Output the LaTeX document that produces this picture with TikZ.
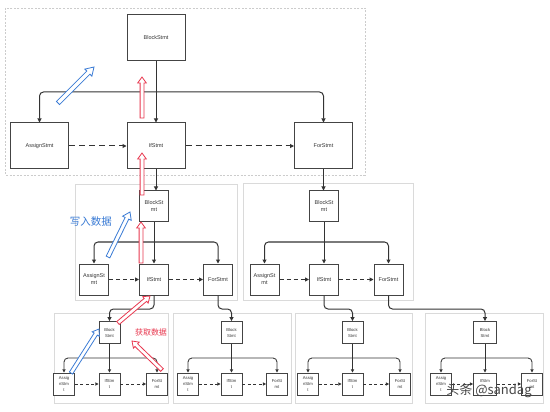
\documentclass[tikz,border=0pt]{standalone}
\usepackage{fontspec}
\setmainfont{Liberation Sans}
\newfontfamily\cjk{Noto Sans CJK SC}
\usetikzlibrary{arrows.meta,calc}
\definecolor{ln}{HTML}{333333}
\definecolor{bx}{HTML}{444444}
\definecolor{bl}{HTML}{3A7BD5}
\definecolor{rd}{HTML}{E8384F}
\definecolor{fr}{HTML}{DADADA}
\newcommand\hollowarr[6]{%
  \coordinate (hb) at ($(#3)!#6!(#2)$);
  \draw[hollow, draw=#1] ($(#2)!#4!90:(#3)$) -- ($(hb)!#4!90:(#3)$) -- ($(hb)!#5!90:(#3)$) -- (#3) -- ($(hb)!#5!-90:(#3)$) -- ($(hb)!#4!-90:(#3)$) -- ($(#2)!#4!-90:(#3)$) -- cycle;}
\begin{document}
\begin{tikzpicture}[x=1pt,y=-1pt,
  b1/.style={draw=bx, line width=1pt, fill=white, minimum width=58pt, minimum height=46pt, inner sep=0pt, align=center, text=black!80, font=\fontsize{5.5}{7}\selectfont},
  b2/.style={b1, minimum width=29pt, minimum height=31pt},
  b3/.style={b1, minimum width=21pt, minimum height=22pt, line width=0.9pt, font=\fontsize{4.2}{6}\selectfont},
  b3w/.style={b3, minimum width=23pt},
  conn/.style={draw=ln, line width=1pt},
  arr/.style={conn, -{Triangle[length=4pt,width=4pt]}},
  arrs/.style={conn, line width=0.85pt, -{Triangle[length=3.2pt,width=3.2pt]}},
  dsh1/.style={arr, dash pattern=on 6pt off 4pt},
  dsh2/.style={arr, dash pattern=on 4pt off 3pt},
  dsh3/.style={arrs, dash pattern=on 3pt off 2.5pt},
  frame0/.style={draw=gray!40, line width=0.6pt, dash pattern=on 2pt off 1.5pt},
  framebox/.style={draw=fr, line width=0.6pt},
  hollow/.style={fill=white, line width=0.8pt, line join=miter},
  rc/.style={rounded corners=4pt}
]
\fill[white] (0,0) rectangle (550,412);
\useasboundingbox (0,0) rectangle (550,412);
% frames
\draw[frame0] (5,8) rectangle (365,175);
\draw[framebox] (75,184) rectangle (237,300);
\draw[framebox] (243,183) rectangle (413,300);
\draw[framebox] (54,313) rectangle (168,403);
\draw[framebox] (173,313) rectangle (291,403);
\draw[framebox] (295,313) rectangle (412,403);
\draw[framebox] (425,313) rectangle (543,403);

% level 1
\node[b1] (b0) at (156,38) {BlockStmt};
\node[b1] (a1) at (39.5,146) {AssignStmt};
\node[b1] (i1) at (156,146) {IfStmt};
\node[b1] (f1) at (323.5,146) {ForStmt};
\coordinate (j0) at (156,92);
\draw[conn] (b0.south) -- (j0);
\draw[arr, rc] (j0) -| (a1.north);
\draw[arr, rc] (j0) -| (f1.north);
\draw[arr] (j0) -- (i1.north);
\draw[dsh1] (a1.east) -- (i1.west);
\draw[dsh1] (i1.east) -- (f1.west);

% level 2 left
\node[b2] (b2L) at (154,206.5) {BlockSt\\mt};
\node[b2] (a2L) at (94,279.5) {AssignSt\\mt};
\node[b2] (i2L) at (154,279.5) {IfStmt};
\node[b2] (f2L) at (218,279.5) {ForStmt};
\coordinate (j2L) at (154,242);
\draw[conn] (b2L.south) -- (j2L);
\draw[arr, rc] (j2L) -| (a2L.north);
\draw[arr, rc] (j2L) -| (f2L.north);
\draw[arr] (j2L) -- (i2L.north);
\draw[dsh2] (a2L.east) -- (i2L.west);
\draw[dsh2] (i2L.east) -- (f2L.west);

% level 2 right
\node[b2] (b2R) at (324,206.5) {BlockSt\\mt};
\node[b2] (a2R) at (264.5,279.5) {AssignSt\\mt};
\node[b2] (i2R) at (324,279.5) {IfStmt};
\node[b2] (f2R) at (388.5,279.5) {ForStmt};
\coordinate (j2R) at (324,242);
\draw[conn] (b2R.south) -- (j2R);
\draw[arr, rc] (j2R) -| (a2R.north);
\draw[arr, rc] (j2R) -| (f2R.north);
\draw[arr] (j2R) -- (i2R.north);
\draw[dsh2] (a2R.east) -- (i2R.west);
\draw[dsh2] (i2R.east) -- (f2R.west);

% level 1 -> level 2
\draw[arr] (i1.south) -- (i1.south |- b2L.north);
\draw[arr] (f1.south) -- (f1.south |- b2R.north);

% level 3
\foreach \n/\bx/\ax/\fx/\st in {a/109.5/64/157/b3, b/231.5/188/277/b3, c/352.5/308/400/b3, d/485/441/532/b3w}{
  \node[\st] (B\n) at (\bx,332.5) {Block\\Stmt};
  \node[b3] (A\n) at (\ax,384) {Assig\\nStm\\t};
  \node[\st] (I\n) at (\bx,384) {IfStm\\t};
  \node[b3] (F\n) at (\fx,384) {ForSt\\mt};
  \coordinate (J\n) at (\bx,358);
  \draw[conn] (B\n.south) -- (J\n);
  \draw[arrs, rc] (J\n) -| (A\n.north);
  \draw[arrs, rc] (J\n) -| (F\n.north);
  \draw[arrs] (J\n) -- (I\n.north);
  \draw[dsh3] (A\n.east) -- (I\n.west);
  \draw[dsh3] (I\n.east) -- (F\n.west);
}

% level 2 -> level 3
\draw[arr, rc] (i2L.south) -- ++(0,13.5) -| (Ba.north);
\draw[arr, rc] (f2L.south) -- ++(0,13.5) -| (Bb.north);
\draw[arr, rc] (i2R.south) -- ++(0,13.5) -| (Bc.north);
\draw[arr, rc] (f2R.south) -- ++(0,13.5) -| (Bd.north);

% hollow arrows
\coordinate (h1s) at (58,103);  \coordinate (h1e) at (94,67);
\coordinate (h2s) at (142,118); \coordinate (h2e) at (142,77);
\coordinate (h3s) at (142,195); \coordinate (h3e) at (142,153);
\coordinate (h4s) at (141,263); \coordinate (h4e) at (141,222);
\coordinate (h5s) at (108,257); \coordinate (h5e) at (130,212);
\coordinate (h6s) at (118,323); \coordinate (h6e) at (150,296);
\coordinate (h7s) at (162,370); \coordinate (h7e) at (132,341);
\coordinate (h8s) at (71,373);  \coordinate (h8e) at (99,329);
\hollowarr{bl}{h1s}{h1e}{2.2pt}{5pt}{8pt}
\hollowarr{rd}{h2s}{h2e}{1.9pt}{4.3pt}{6pt}
\hollowarr{rd}{h3s}{h3e}{1.9pt}{4.3pt}{6pt}
\hollowarr{rd}{h4s}{h4e}{1.9pt}{4.3pt}{6pt}
\hollowarr{bl}{h5s}{h5e}{2pt}{4.8pt}{7pt}
\hollowarr{rd}{h6s}{h6e}{1.9pt}{4.2pt}{6pt}
\hollowarr{rd}{h7s}{h7e}{1.9pt}{4.2pt}{6pt}
\hollowarr{bl}{h8s}{h8e}{1.9pt}{4.2pt}{6pt}

% labels
\node[font=\cjk\fontsize{10.5}{12}\selectfont, text=bl, inner sep=0pt] (lw) at (91,222) {写入数据};
\node[font=\cjk\fontsize{8}{10}\selectfont, text=rd, inner sep=0pt] (lg) at (151,332.5) {获取数据};
\node[font=\cjk\fontsize{13}{15}\selectfont, text=gray!55!black, inner sep=0pt] (wm) at (489,391) {头条 @sandag};
\end{tikzpicture}
\end{document}
